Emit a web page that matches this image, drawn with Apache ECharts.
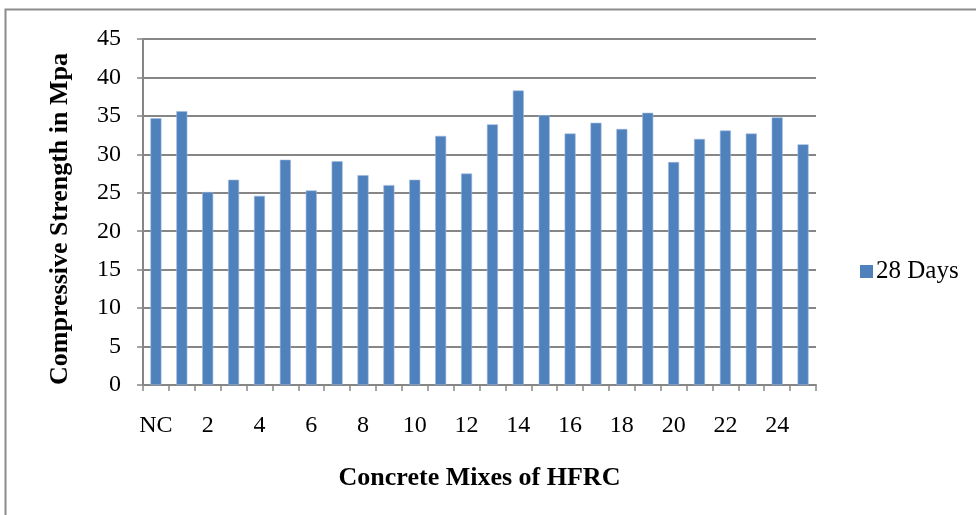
<!DOCTYPE html>
<html>
<head>
<meta charset="utf-8">
<script src="https://cdn.jsdelivr.net/npm/echarts@6/dist/echarts.min.js"></script>
<style>
  html, body { margin: 0; padding: 0; background: #fff; }
  #chart { width: 976px; height: 515px; }
</style>
</head>
<body>
<div id="chart"></div>
<script>
// Mix identifiers: normal concrete followed by HFRC mixes 1–25
const mixes = ['NC', '1', '2', '3', '4', '5', '6', '7', '8', '9', '10', '11', '12',
  '13', '14', '15', '16', '17', '18', '19', '20', '21', '22', '23', '24', '25'];

// 28-day compressive strength (MPa)
const strength28 = [34.7, 35.6, 25.1, 26.7, 24.6, 29.3, 25.3, 29.1, 27.3, 26.0, 26.7, 32.4, 27.5,
  33.9, 38.3, 35.1, 32.7, 34.1, 33.3, 35.4, 29.0, 32.0, 33.1, 32.7, 34.8, 31.3];

const seriesName = '28 Days';
const yTicks = { min: 0, max: 45, step: 5 };

const font = '"Liberation Serif", "Times New Roman", serif';
const gridColor = '#868686';

const chart = echarts.init(document.getElementById('chart'));
chart.setOption({
  animation: false,
  backgroundColor: '#fff',
  graphic: [{
    type: 'rect',
    shape: { x: 5.5, y: 9.5, width: 1200, height: 800 },
    style: { fill: 'none', stroke: '#8c8c8c', lineWidth: 2 },
    silent: true
  }],
  grid: { left: 143, right: 160, top: 39, bottom: 130, containLabel: false },
  legend: {
    data: [seriesName],
    orient: 'vertical',
    left: 855,
    top: 254,
    itemWidth: 13,
    itemHeight: 13,
    itemGap: 5,
    icon: 'rect',
    itemStyle: { borderWidth: 0 },
    textStyle: { fontFamily: font, fontSize: 25, color: '#000', padding: [0, 0, 0, -2] }
  },
  xAxis: {
    type: 'category',
    data: mixes,
    name: 'Concrete Mixes of HFRC',
    nameLocation: 'middle',
    nameGap: 80,
    nameTextStyle: { fontFamily: font, fontSize: 26, fontWeight: 'bold', color: '#000' },
    axisLine: { lineStyle: { color: gridColor, width: 2 } },
    axisTick: { show: true, alignWithLabel: false, interval: 0, length: 6, lineStyle: { color: gridColor, width: 1.5 } },
    axisLabel: { interval: 1, margin: 29, fontFamily: font, fontSize: 24, color: '#000' }
  },
  yAxis: {
    type: 'value',
    min: yTicks.min,
    max: yTicks.max,
    interval: yTicks.step,
    name: 'Compressive Strength in Mpa',
    nameLocation: 'middle',
    nameGap: 70,
    nameRotate: 90,
    nameTextStyle: { fontFamily: font, fontSize: 26, fontWeight: 'bold', color: '#000', padding: [0, 14, 0, 0] },
    axisLine: { show: true, lineStyle: { color: gridColor, width: 2 } },
    axisTick: { show: true, length: 6, lineStyle: { color: gridColor, width: 1.5 } },
    axisLabel: { margin: 22, fontFamily: font, fontSize: 24, color: '#000' },
    splitLine: { lineStyle: { color: gridColor, width: 2 } }
  },
  series: [{
    name: seriesName,
    type: 'bar',
    data: strength28,
    barWidth: 11,
    itemStyle: { color: '#4F81BD', borderColor: '#9DB9DE', borderWidth: 0.6 }
  }]
});
</script>
</body>
</html>
